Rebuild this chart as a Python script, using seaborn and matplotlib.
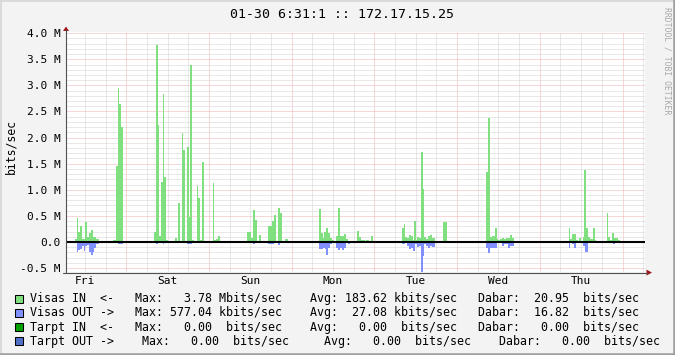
import numpy as np
import pandas as pd
import matplotlib
matplotlib.use("Agg")
import matplotlib.pyplot as plt
from matplotlib.lines import Line2D
from matplotlib.patches import Rectangle, Polygon
import seaborn as sns

# ---------------- data (hours since Fri 00:00, values in Mbit/s) ----------------
# step series: breakpoints (t) and the value held between consecutive breakpoints (v)
fri_in_t = [9.13, 9.71, 10.00, 10.58, 11.16, 12.03, 12.61, 13.19, 13.78, 14.36, 15.23, 16.10,
            20.16, 21.03, 21.61, 21.90, 22.48, 23.06]
fri_in_v = [0.06, 0.45, 0.19, 0.31, 0.06, 0.39, 0.10, 0.18, 0.23, 0.10, 0.05, 0.00,
            0.03, 1.46, 2.95, 2.65, 2.20]
sat_in_t = [32.06, 32.64, 33.22, 33.51, 34.09, 34.67, 34.96, 35.54, 36.12, 38.15, 38.73, 39.02,
            39.60, 40.18, 40.47, 41.05, 41.63, 42.21, 42.50, 43.08, 43.67, 44.54, 44.83, 45.41,
            45.99, 46.57, 49.18, 49.47, 50.05, 50.63, 51.21]
sat_in_v = [0.19, 3.78, 2.24, 0.12, 1.15, 2.84, 1.25, 0.04, 0.00, 0.08, 0.00, 0.75,
            0.00, 2.09, 1.76, 0.00, 1.82, 0.48, 3.39, 0.03, 0.00, 1.07, 0.84, 0.04,
            1.53, 0.00, 1.13, 0.04, 0.06, 0.12]
sun_in_t = [59.05, 60.21, 60.79, 61.37, 61.95, 62.53, 63.11, 65.14, 66.30, 66.88, 67.46, 68.04,
            68.62, 69.20, 70.06, 70.94]
sun_in_v = [0.19, 0.08, 0.62, 0.43, 0.00, 0.13, 0.00, 0.31, 0.41, 0.51, 0.00, 0.66,
            0.55, 0.00, 0.05]
mon_in_t = [79.94, 80.52, 81.10, 81.39, 81.97, 82.55, 83.13, 83.71, 84.29, 84.87, 85.45, 86.03,
            86.61, 87.20, 87.78, 88.36, 88.94, 90.97, 91.55, 92.13, 93.29, 93.58, 94.45, 95.03, 95.61]
mon_in_v = [0.63, 0.17, 0.08, 0.19, 0.27, 0.17, 0.08, 0.04, 0.02, 0.11, 0.65, 0.11,
            0.12, 0.15, 0.06, 0.02, 0.00, 0.21, 0.10, 0.04, 0.00, 0.04, 0.00, 0.11]
tue_in_t = [104.02, 104.60, 104.89, 105.48, 106.06, 106.64, 107.22, 107.51, 108.09, 108.38,
            108.96, 109.54, 110.12, 110.41, 110.99, 111.57, 112.15, 112.73, 113.60, 115.92, 117.08]
tue_in_v = [0.27, 0.35, 0.10, 0.08, 0.13, 0.12, 0.03, 0.41, 0.04, 0.10,
            0.08, 1.73, 1.02, 0.10, 0.06, 0.12, 0.13, 0.08, 0.00, 0.39]
wed_in_t = [128.40, 128.98, 129.56, 130.14, 131.02, 131.60, 131.89, 132.47, 133.05, 133.63,
            134.21, 135.38, 135.96, 136.54]
wed_in_v = [1.35, 2.38, 0.10, 0.12, 0.26, 0.05, 0.03, 0.06, 0.08, 0.06, 0.08, 0.13, 0.08]
thu_in_t = [152.49, 152.78, 153.36, 154.52, 155.10, 155.39, 155.97, 156.55, 156.84, 157.42,
            158.00, 158.58, 159.45, 160.03, 160.32, 163.51, 163.80, 164.38, 164.96, 165.54,
            166.70, 167.28]
thu_in_v = [0.27, 0.06, 0.16, 0.04, 0.00, 0.08, 0.00, 0.10, 1.37, 0.27,
            0.10, 0.06, 0.27, 0.03, 0.00, 0.56, 0.10, 0.04, 0.18, 0.08, 0.04]

fri_out_t = [9.71, 10.00, 10.58, 11.16, 11.74, 12.03, 12.61, 13.19, 13.78, 14.36, 14.65, 15.23,
             16.10, 21.61, 23.06]
fri_out_v = [-0.20, -0.15, -0.14, -0.08, -0.17, -0.07, -0.06, -0.19, -0.24, -0.20, -0.12,
             -0.03, 0.00, -0.03]
sat_out_t = [32.64, 33.22, 34.67, 34.96, 40.18, 41.05, 41.63, 43.08, 44.54, 45.41]
sat_out_v = [-0.03, 0.00, -0.03, 0.00, -0.02, 0.00, -0.03, 0.00, -0.02]
sun_out_t = [60.79, 61.37, 65.14, 66.88, 68.04, 68.62]
sun_out_v = [-0.03, 0.00, -0.03, 0.00, -0.05]
mon_out_t = [79.94, 81.10, 81.68, 81.97, 82.55, 83.13, 83.71, 84.87, 85.45, 86.03, 86.61,
             87.20, 87.78, 88.36, 88.94, 90.97, 91.55]
mon_out_v = [-0.13, -0.11, -0.14, -0.24, -0.11, -0.04, 0.00, -0.11, -0.15, -0.11, -0.15,
             -0.11, 0.00, -0.04, 0.00, -0.02]
tue_out_t = [104.02, 104.89, 105.48, 106.06, 106.64, 107.22, 107.80, 108.38, 108.96, 109.54,
             110.12, 110.41, 110.99, 111.57, 112.15, 112.73, 113.60, 115.92, 117.08]
tue_out_v = [-0.04, -0.02, -0.08, -0.13, -0.11, -0.17, -0.04, -0.09, -0.07, -0.577,
             -0.27, -0.04, -0.08, -0.11, -0.07, -0.09, 0.00, -0.02]
wed_out_t = [128.40, 128.98, 129.56, 131.60, 131.89, 133.05, 133.63, 134.80, 135.38, 136.54]
wed_out_v = [-0.12, -0.22, -0.12, 0.00, -0.02, -0.08, -0.04, -0.11, -0.07]
thu_out_t = [152.49, 152.78, 153.36, 153.94, 154.52, 155.97, 156.55, 157.13, 158.00, 160.32,
             165.25, 165.83]
thu_out_v = [-0.11, 0.00, -0.04, -0.11, -0.02, 0.00, -0.08, -0.20, -0.02, 0.00, -0.03]

day_labels = ["Fri", "Sat", "Sun", "Mon", "Tue", "Wed", "Thu"]
day_noons = [12, 36, 60, 84, 108, 132, 156]
y_ticks = [-0.5, 0.0, 0.5, 1.0, 1.5, 2.0, 2.5, 3.0, 3.5, 4.0]
y_tick_labels = ["-0.5 M", "0.0", "0.5 M", "1.0 M", "1.5 M", "2.0 M", "2.5 M", "3.0 M",
                 "3.5 M", "4.0 M"]
t_start, t_end = 6.52, 174.52
y_min, y_max = -0.577, 4.02

title = "01-30 6:31:1 :: 172.17.15.25"
y_label = "bits/sec"
watermark = "RRDTOOL / TOBI OETIKER"

legend_names = ["Visas IN", "Visas OUT", "Tarpt IN", "Tarpt OUT"]
legend_arrows = ["<-", "->", "<-", "->"]
legend_max = ["3.78", "577.04", "0.00", "0.00"]
legend_max_unit = ["Mbits/sec", "kbits/sec", " bits/sec", " bits/sec"]
legend_avg = ["183.62", "27.08", "0.00", "0.00"]
legend_avg_unit = ["kbits/sec", "kbits/sec", " bits/sec", " bits/sec"]
legend_cur = ["20.95", "16.82", "0.00", "0.00"]
legend_colors = ["#80E080", "#8090FF", "#00A000", "#5070C8"]

# ---------------- style ----------------
sns.set_style("white")
plt.rcParams["font.family"] = ["DejaVu Sans Mono", "DejaVu Sans"]

BG = "#F3F3F3"
GRID = "#D2D2D2"
MGRID = "#F0B0B0"
AXIS = "#505050"
ARROW = "#9B1B1B"
W, H = 675, 355


def fx(px):
    return px / W


def fy(py):
    return 1 - py / H


fig = plt.figure(figsize=(W / 100, H / 100), dpi=100, facecolor=BG)

ax_l, ax_r = 66, 645
ax_b = 272.1
ax_t = ax_b - (y_max - y_min) * 52.2
ax = fig.add_axes([fx(ax_l), fy(ax_b), (ax_r - ax_l) / W, (ax_b - ax_t) / H])
ax.set_facecolor("white")


def draw_step(days_t, days_v, color):
    bins = [float(b) for t in days_t for b in t]
    mids = [(a + b) / 2 for t in days_t for a, b in zip(t[:-1], t[1:])]
    vals = [float(x) for v in days_v for x in v]
    df = pd.DataFrame({"hour": mids, "mbps": vals})
    sns.histplot(data=df, x="hour", weights="mbps", bins=bins, element="step", fill=True,
                 color=color, alpha=1.0, linewidth=0, edgecolor="none", ax=ax, zorder=2)


draw_step([fri_in_t, sat_in_t, sun_in_t, mon_in_t, tue_in_t, wed_in_t, thu_in_t],
          [fri_in_v, sat_in_v, sun_in_v, mon_in_v, tue_in_v, wed_in_v, thu_in_v],
          legend_colors[0])
draw_step([fri_out_t, sat_out_t, sun_out_t, mon_out_t, tue_out_t, wed_out_t, thu_out_t],
          [fri_out_v, sat_out_v, sun_out_v, mon_out_v, tue_out_v, wed_out_v, thu_out_v],
          legend_colors[1])

ax.set_xlim(t_start, t_end)
ax.set_ylim(y_min, y_max)
ax.set_xlabel("")
ax.set_ylabel("")

# grid
dot = (0, (1, 1))
for k in range(int(np.ceil(t_start / 6)), int(t_end // 6) + 1):
    h = 6 * k
    ax.axvline(h, color=MGRID if h % 24 == 0 else GRID, lw=0.72, ls=dot, zorder=0.5)
for k in range(-5, 41):
    ax.axhline(k / 10, color=MGRID if k % 5 == 0 else GRID, lw=0.72, ls=dot, zorder=0.5)
ax.axhline(0, color="black", lw=1.5, zorder=5)

for s in ax.spines.values():
    s.set_visible(False)

ax.set_yticks(y_ticks, y_tick_labels)
ax.set_xticks(day_noons, day_labels)
ax.tick_params(axis="y", length=0, pad=4, labelsize=8, labelcolor="black")
ax.tick_params(axis="x", length=0, pad=2.5, labelsize=8, labelcolor="black")

# axes lines & arrows
fig.add_artist(Line2D([fx(ax_l), fx(ax_l)], [fy(ax_b + 1), fy(30)], color=AXIS, lw=0.8))
fig.add_artist(Line2D([fx(ax_l - 3), fx(647)], [fy(ax_b + 0.5), fy(ax_b + 0.5)], color=AXIS, lw=0.8))
fig.add_artist(Polygon([[fx(ax_l - 3), fy(31)], [fx(ax_l + 3), fy(31)], [fx(ax_l), fy(26.5)]],
                       closed=True, color=ARROW, lw=0))
fig.add_artist(Polygon([[fx(646.5), fy(ax_b - 2.5)], [fx(646.5), fy(ax_b + 3.5)], [fx(652), fy(ax_b + 0.5)]],
                       closed=True, color=ARROW, lw=0))

# texts
fig.text(fx(341.5), fy(14), title, ha="center", va="center", fontsize=9.55, color="black")
fig.text(fx(10.5), fy(147), y_label, ha="center", va="center", rotation=90, fontsize=8.3, color="black")
fig.text(fx(666.5), fy(60.5), watermark, ha="center", va="center", rotation=270, fontsize=5.9,
         color="#A8A8A8")

# legend
row_y = [298.8, 312.9, 327.0, 341.1]
for i in range(4):
    if i < 3:
        line = (f"{legend_names[i]:<9} {legend_arrows[i]}   Max: {legend_max[i]:>6} {legend_max_unit[i]}"
                f"    Avg: {legend_avg[i]:>6} {legend_avg_unit[i]}   Dabar: {legend_cur[i]:>6}  bits/sec")
    else:
        line = (f"{legend_names[i]:<9} {legend_arrows[i]}    Max: {legend_max[i]:>6} {legend_max_unit[i]}"
                f"     Avg: {legend_avg[i]:>6} {legend_avg_unit[i]}    Dabar: {legend_cur[i]:>6}  bits/sec")
    fig.text(fx(30), fy(row_y[i]), line, ha="left", va="center", fontsize=8.42, color="black")
    fig.add_artist(Rectangle((fx(15), fy(row_y[i] + 4)), 8 / W, 8 / H, facecolor=legend_colors[i],
                             edgecolor="black", lw=0.75, transform=fig.transFigure))

# frame
fig.add_artist(Line2D([0, 1], [fy(0.7), fy(0.7)], color="#D6D6D6", lw=1.2))
fig.add_artist(Line2D([fx(0.7), fx(0.7)], [0, 1], color="#D6D6D6", lw=1.2))
fig.add_artist(Line2D([0, 1], [fy(353.8), fy(353.8)], color="#9E9E9E", lw=1.8))
fig.add_artist(Line2D([fx(673.8), fx(673.8)], [0, 1], color="#9E9E9E", lw=1.8))

fig.savefig("out.png", dpi=100, facecolor=BG)
